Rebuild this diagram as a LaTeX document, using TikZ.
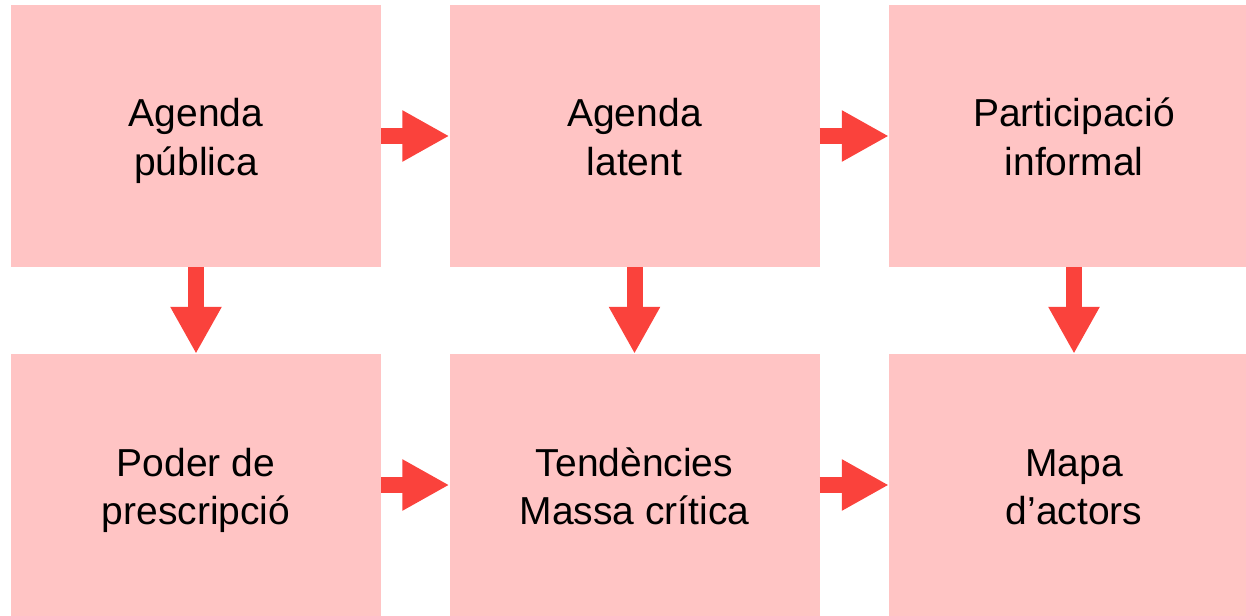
\documentclass[tikz,border=0pt]{standalone}
\usepackage{fontspec}
\setmainfont{Liberation Sans}
\usepackage{tikz}
\usetikzlibrary{arrows.meta}
\definecolor{rosa}{RGB}{255,196,196}
\definecolor{vermell}{RGB}{250,66,60}
\tikzset{caixa/.style={fill=rosa, draw=none, minimum width=370pt, minimum height=262pt,
  align=center, font=\fontsize{39}{48}\selectfont, inner sep=0pt,
  execute at begin node={\rule{0pt}{88pt}}, execute at end node={\rule[-10pt]{0pt}{10pt}}}}
\tikzset{fletxa/.style={draw=vermell, line width=16pt,
  -{Triangle[length=47pt, width=48pt, fill=vermell]}}}
\begin{document}
\begin{tikzpicture}[x=1pt, y=-1pt]

\useasboundingbox (0,0) rectangle (1246,615);

\node[caixa] (publica) at (196, 136) {Agenda\\pública};
\node[caixa] (latent) at (634.5, 136) {Agenda\\latent};
\node[caixa] (informal) at (1074, 136) {Participació\\informal};
\node[caixa] (poder) at (196, 485) {Poder de\\prescripció};
\node[caixa] (tendencies) at (634.5, 485) {Tendències\\Massa crítica};
\node[caixa] (actors) at (1074, 485) {Mapa\\d’actors};

\draw[fletxa] (publica) -- (latent);
\draw[fletxa] (latent) -- (informal);
\draw[fletxa] (poder) -- (tendencies);
\draw[fletxa] (tendencies) -- (actors);
\draw[fletxa] (publica) -- (poder);
\draw[fletxa] (latent) -- (tendencies);
\draw[fletxa] (informal) -- (actors);

\end{tikzpicture}
\end{document}
